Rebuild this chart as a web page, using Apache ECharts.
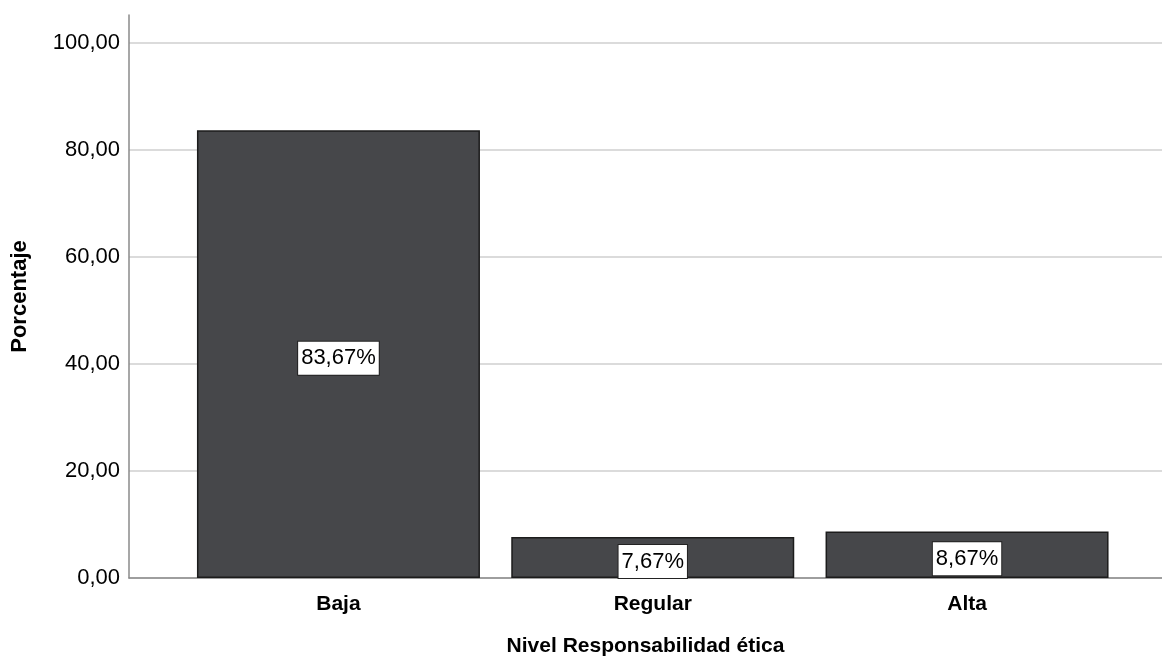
<!DOCTYPE html>
<html>
<head>
<meta charset="utf-8">
<script src="https://cdn.jsdelivr.net/npm/echarts@6/dist/echarts.min.js"></script>
<style>
  html, body { margin: 0; padding: 0; background: #ffffff; }
  #chart { width: 1162px; height: 658px; }
</style>
</head>
<body>
<div id="chart"></div>
<script>
// Nivel de responsabilidad ética: porcentaje por categoría
const categories = ['Baja', 'Regular', 'Alta'];
const percentages = [83.67, 7.67, 8.67];
const yTicks = [0, 20, 40, 60, 80, 100];

const FONT = 'Arial, "Liberation Sans", Helvetica, sans-serif';
const fmt = v => v.toFixed(2).replace('.', ',');

const chart = echarts.init(document.getElementById('chart'));

chart.setOption({
  backgroundColor: '#ffffff',
  animation: false,
  grid: [
    // frame: vertical axis line rising above the top gridline
    { left: 129, right: 0, top: 15, bottom: 80, outerBoundsMode: 'none', containLabel: false },
    // gridlines, tick labels and baseline
    { left: 129, right: 0, top: 43, bottom: 80, outerBoundsMode: 'none', containLabel: false },
    // bars
    { left: 181.3, right: 37.8, top: 43, bottom: 80, outerBoundsMode: 'none', containLabel: false }
  ],
  xAxis: [
    { gridIndex: 0, type: 'category', data: categories, show: false },
    {
      gridIndex: 1, type: 'category', data: categories,
      axisLine: { show: true, lineStyle: { color: '#8a8a8a', width: 1.5 } },
      axisTick: { show: false }, axisLabel: { show: false },
      name: 'Nivel Responsabilidad ética', nameLocation: 'middle', nameGap: 58,
      nameTextStyle: { fontFamily: FONT, fontSize: 21, fontWeight: 'bold', color: '#000' }
    },
    {
      gridIndex: 2, type: 'category', data: categories,
      axisLine: { show: false }, axisTick: { show: false },
      axisLabel: { fontFamily: FONT, fontSize: 21, fontWeight: 'bold', color: '#000', margin: 16 }
    }
  ],
  yAxis: [
    {
      gridIndex: 0, type: 'value', min: 0, max: 105.23,
      axisLine: { show: true, lineStyle: { color: '#8a8a8a', width: 1.5 } },
      axisTick: { show: false }, axisLabel: { show: false }, splitLine: { show: false },
      name: 'Porcentaje', nameLocation: 'middle', nameGap: 98,
      nameTextStyle: { fontFamily: FONT, fontSize: 22, fontWeight: 'bold', color: '#000' }
    },
    {
      gridIndex: 1, type: 'value', min: yTicks[0], max: yTicks[yTicks.length - 1], interval: 20,
      axisLine: { show: false }, axisTick: { show: false },
      axisLabel: { formatter: fmt, fontFamily: FONT, fontSize: 22, color: '#000', margin: 9 },
      splitLine: { show: true, lineStyle: { color: '#cfcfcf', width: 1.5 } }
    },
    {
      gridIndex: 2, type: 'value', min: 0, max: 100, show: false, splitLine: { show: false }
    }
  ],
  series: [
    {
      type: 'bar', xAxisIndex: 2, yAxisIndex: 2,
      data: percentages,
      barWidth: 283,
      itemStyle: { color: '#46474a', borderColor: '#1c1c1c', borderWidth: 1.5 },
      label: {
        show: true, position: 'inside', offset: [0, 4],
        formatter: p => fmt(p.value) + '%',
        fontFamily: FONT, fontSize: 22, color: '#000',
        backgroundColor: '#ffffff', borderColor: '#222', borderWidth: 1,
        padding: [4, 3, 3, 3], lineHeight: 26
      }
    }
  ]
});
</script>
</body>
</html>
